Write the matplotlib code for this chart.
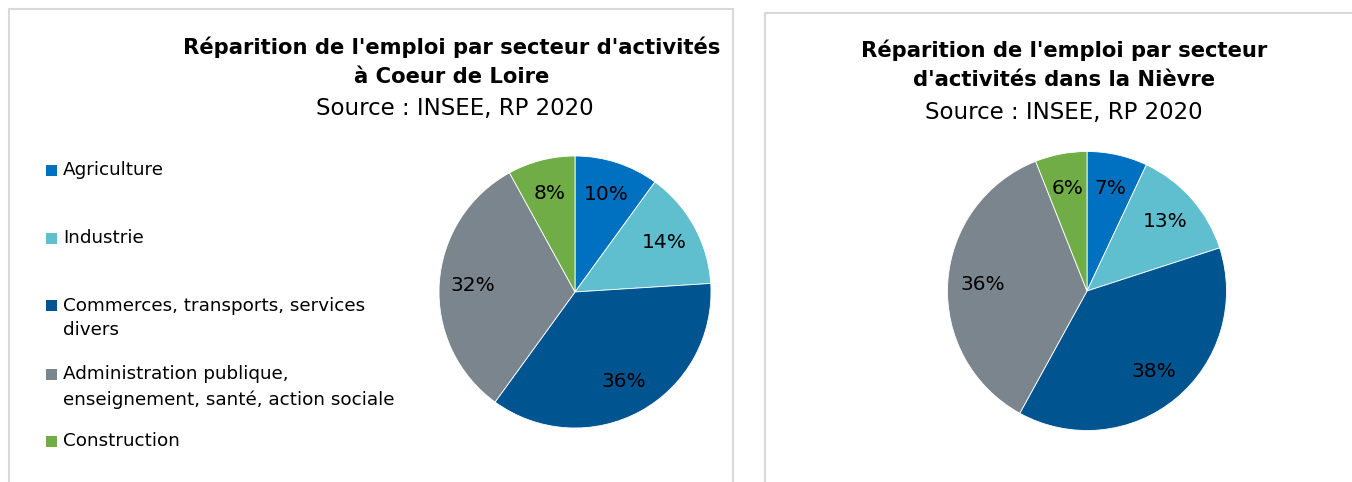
import matplotlib
matplotlib.use("Agg")
import matplotlib.pyplot as plt
from matplotlib.patches import Rectangle

# Sector categories and employment shares (%), INSEE RP 2020
categories = [
    "Agriculture",
    "Industrie",
    "Commerces, transports, services\ndivers",
    "Administration publique,\nenseignement, santé, action sociale",
    "Construction",
]
coeur_de_loire = [10, 14, 36, 32, 8]
nievre = [7, 13, 38, 36, 6]

colors = ["#0070C0", "#5FBFCF", "#00548F", "#7A858D", "#70AD47"]

title_left = "Réparition de l'emploi par secteur d'activités\nà Coeur de Loire"
title_right = "Réparition de l'emploi par secteur\nd'activités dans la Nièvre"
source = "Source : INSEE, RP 2020"

plt.rcParams["font.family"] = ["DejaVu Sans"]

W, H = 1352, 482
fig = plt.figure(figsize=(W / 100, H / 100), dpi=100)


def fx(px):
    return px / W


def fy(py):
    return 1 - py / H


# panel frames
border = "#D9D9D9"
fig.patches.append(Rectangle((fx(9), fy(490)), fx(724), (490 - 9) / H,
                             transform=fig.transFigure, fill=False,
                             edgecolor=border, linewidth=1.5))
fig.patches.append(Rectangle((fx(765), fy(490)), fx(600), (490 - 13) / H,
                             transform=fig.transFigure, fill=False,
                             edgecolor=border, linewidth=1.5))


def draw_pie(cx, cy, r, values):
    ax = fig.add_axes([fx(cx - r), fy(cy + r), fx(2 * r), 2 * r / H])
    ax.pie(values, colors=colors, startangle=90, counterclock=False,
           autopct=lambda p: f"{p:.0f}%", pctdistance=0.75,
           wedgeprops=dict(edgecolor="white", linewidth=0.6),
           textprops=dict(fontsize=14.5, color="black"))
    ax.set_xlim(-1, 1)
    ax.set_ylim(-1, 1)
    ax.set_aspect("auto")
    ax.axis("off")
    return ax


draw_pie(575, 292, 136, coeur_de_loire)
draw_pie(1087, 291, 139.5, nievre)

# titles
fig.text(fx(452), fy(62), title_left, ha="center", va="center",
         fontsize=15.2, fontweight="bold", linespacing=1.55)
fig.text(fx(455), fy(108), source, ha="center", va="center", fontsize=16.5)
fig.text(fx(1064), fy(65), title_right, ha="center", va="center",
         fontsize=15.2, fontweight="bold", linespacing=1.55)
fig.text(fx(1064), fy(113), source, ha="center", va="center", fontsize=16.5)

# legend for the left panel
legend_y = [170, 238, 318, 387, 441]
for cat, col, y in zip(categories, colors, legend_y):
    nlines = cat.count("\n") + 1
    top = y - (nlines - 1) * 12.5
    sq = 11
    fig.patches.append(Rectangle((fx(46), fy(top + sq / 2)), fx(sq), sq / H,
                                 transform=fig.transFigure,
                                 facecolor=col, edgecolor="none"))
    fig.text(fx(63), fy(y), cat, ha="left", va="center", fontsize=13.2,
             linespacing=1.45)

fig.savefig("out.png", dpi=100)
